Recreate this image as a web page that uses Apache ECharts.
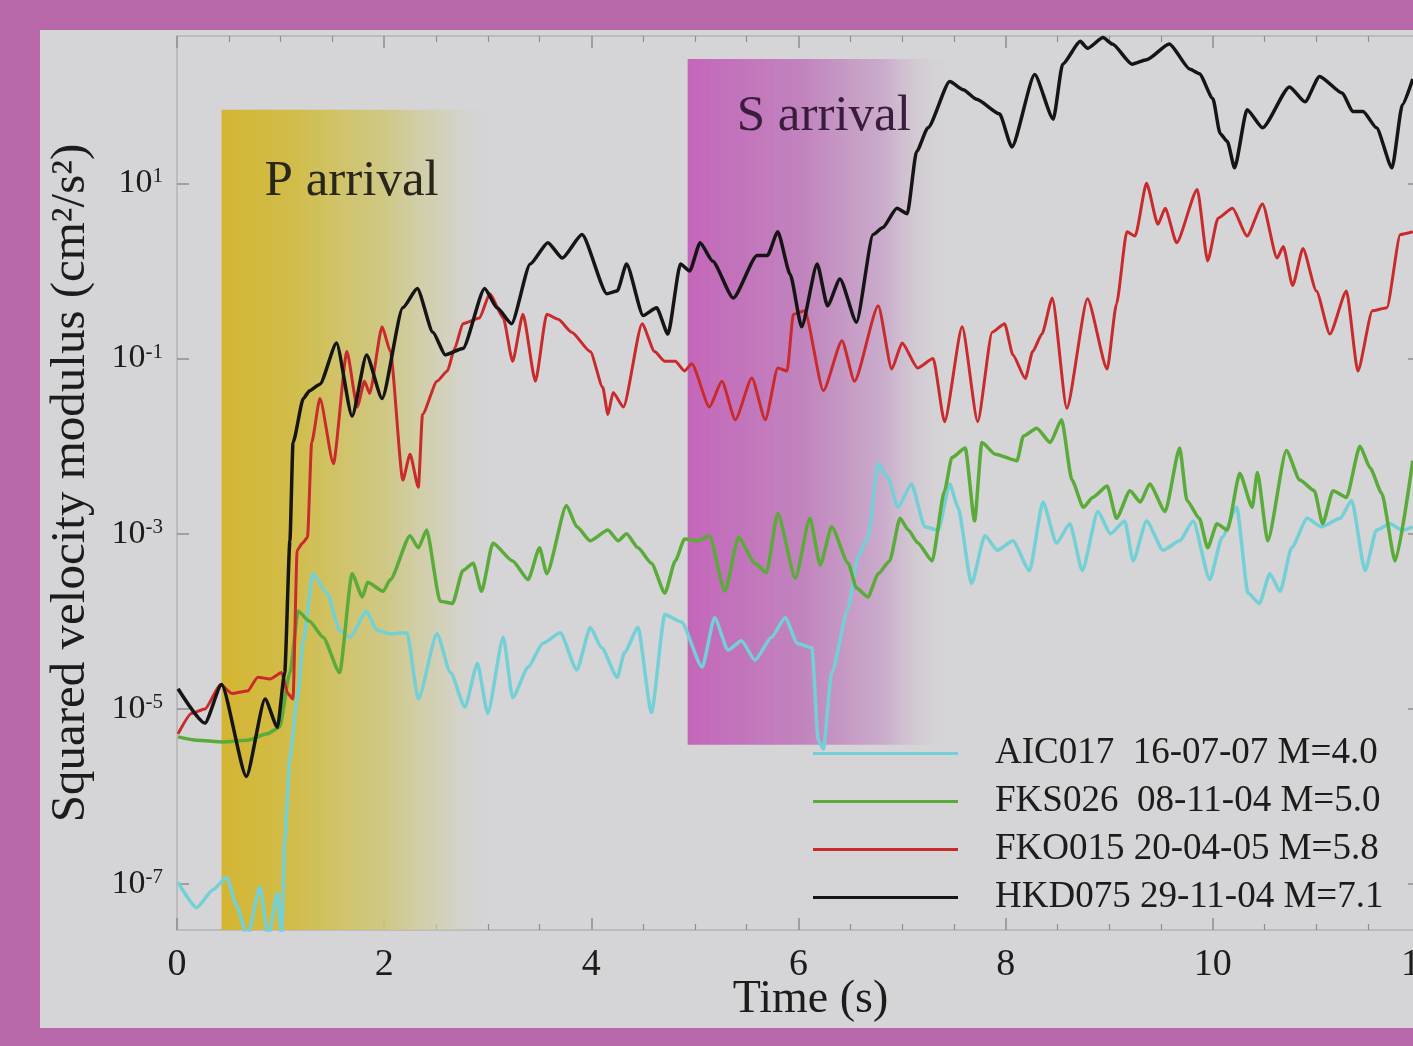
<!DOCTYPE html>
<html>
<head>
<meta charset="utf-8">
<title>Squared velocity modulus</title>
<script src="https://cdn.jsdelivr.net/npm/echarts@6/dist/echarts.min.js"></script>
<style>
  html, body { margin: 0; padding: 0; width: 1413px; height: 1046px; overflow: hidden; background: #b868a9; }
  #panel { position: absolute; left: 40px; top: 30px; width: 1400px; height: 998px; background: #d5d4d6; }
  #chart { position: absolute; left: 0; top: 0; width: 1413px; height: 1046px; }
</style>
</head>
<body>
<div id="panel"></div>
<div id="chart"></div>
<script>
// Squared velocity modulus (cm^2/s^2) against time (s), one trace per station record.
// Each entry is [time in s, squared velocity modulus].

const aic017 = [
  [0.01,1.05e-7],[0.19,5.4e-8],[0.35,8.7e-8],[0.48,1.2e-7],[0.58,5.5e-8],[0.68,2.5e-8],[0.80,9.3e-8],
  [0.88,2.5e-8],[0.97,7.9e-8],[1.01,2.5e-8],[1.04,3.2e-7],[1.09,2.8e-6],[1.16,1.3e-5],[1.22,6.0e-5],
  [1.31,3.5e-4],[1.45,2.1e-4],[1.57,7.9e-5],[1.67,6.6e-5],[1.83,1.3e-4],[1.93,7.9e-5],[2.06,7.2e-5],
  [2.22,7.4e-5],[2.33,1.3e-5],[2.51,7.2e-5],[2.64,2.6e-5],[2.78,1.05e-5],[2.90,3.3e-5],[3.00,8.9e-6],
  [3.15,6.6e-5],[3.24,1.35e-5],[3.39,3.0e-5],[3.53,5.6e-5],[3.70,7.4e-5],[3.86,2.8e-5],[3.99,8.5e-5],
  [4.10,5.0e-5],[4.25,2.3e-5],[4.32,4.4e-5],[4.45,8.5e-5],[4.58,9.1e-6],[4.71,1.2e-4],[4.87,9.8e-5],
  [5.07,3.0e-5],[5.19,1.1e-4],[5.32,4.7e-5],[5.45,6.0e-5],[5.58,3.6e-5],[5.74,6.6e-5],[5.87,1.1e-4],
  [5.99,5.6e-5],[6.13,5.0e-5],[6.19,4.4e-6],[6.24,3.5e-6],[6.32,2.6e-5],[6.48,1.4e-4],[6.57,5.4e-4],
  [6.67,9.1e-4],[6.77,6.3e-3],[6.86,4.4e-3],[6.96,2.0e-3],[7.09,3.7e-3],[7.22,1.2e-3],[7.35,1.1e-3],
  [7.46,3.7e-3],[7.54,2.0e-3],[7.67,2.7e-4],[7.80,9.5e-4],[7.92,6.5e-4],[8.07,8.3e-4],[8.23,3.8e-4],
  [8.36,2.3e-3],[8.49,7.8e-4],[8.62,1.3e-3],[8.74,3.8e-4],[8.89,1.8e-3],[9.01,1.0e-3],[9.15,1.4e-3],
  [9.23,4.9e-4],[9.36,1.4e-3],[9.52,6.5e-4],[9.68,8.3e-4],[9.81,1.4e-3],[9.97,3.0e-4],[10.09,9.1e-4],
  [10.23,2.0e-3],[10.34,2.1e-4],[10.45,1.6e-4],[10.55,3.5e-4],[10.65,2.2e-4],[10.76,6.9e-4],[10.91,1.5e-3],
  [11.05,1.2e-3],[11.23,1.5e-3],[11.34,2.4e-3],[11.47,3.8e-4],[11.58,1.1e-3],[11.71,1.3e-3],[11.83,1.1e-3],
  [11.93,1.2e-3]
];

const fks026 = [
  [0.01,4.8e-6],[0.19,4.4e-6],[0.44,4.2e-6],[0.68,4.4e-6],[0.87,5.2e-6],[0.99,6.2e-6],[1.09,2.6e-5],
  [1.17,1.3e-4],[1.28,1.0e-4],[1.41,6.6e-5],[1.57,2.6e-5],[1.69,3.5e-4],[1.79,1.9e-4],[1.84,2.8e-4],
  [1.99,2.2e-4],[2.06,3.0e-4],[2.25,9.5e-4],[2.33,6.9e-4],[2.41,1.1e-3],[2.54,1.7e-4],[2.66,1.6e-4],
  [2.76,3.8e-4],[2.86,4.6e-4],[2.94,2.2e-4],[3.05,7.8e-4],[3.24,4.9e-4],[3.39,3.0e-4],[3.50,6.9e-4],
  [3.57,3.5e-4],[3.76,2.1e-3],[3.86,1.2e-3],[3.99,8.3e-4],[4.16,1.1e-3],[4.26,8.3e-4],[4.34,1.0e-3],
  [4.45,6.9e-4],[4.58,4.6e-4],[4.71,2.1e-4],[4.81,4.9e-4],[4.90,8.7e-4],[5.03,8.3e-4],[5.14,9.5e-4],
  [5.29,2.2e-4],[5.42,9.1e-4],[5.58,4.6e-4],[5.69,3.6e-4],[5.80,1.7e-3],[5.97,3.1e-4],[6.11,1.5e-3],
  [6.21,4.4e-4],[6.32,1.2e-3],[6.48,4.6e-4],[6.56,2.4e-4],[6.67,1.9e-4],[6.77,3.5e-4],[6.88,4.9e-4],
  [6.98,1.5e-3],[7.06,1.1e-3],[7.15,7.9e-4],[7.29,4.9e-4],[7.41,3.1e-3],[7.48,7.4e-3],[7.61,9.5e-3],
  [7.70,1.4e-3],[7.77,1.1e-2],[7.90,8.1e-3],[8.11,6.8e-3],[8.17,1.3e-2],[8.30,1.6e-2],[8.43,1.1e-2],
  [8.54,2.0e-2],[8.64,4.1e-3],[8.75,2.0e-3],[8.84,2.6e-3],[8.98,3.5e-3],[9.07,1.5e-3],[9.20,3.1e-3],
  [9.30,2.3e-3],[9.39,3.7e-3],[9.54,1.8e-3],[9.68,9.5e-3],[9.75,2.4e-3],[9.87,1.5e-3],[9.95,6.9e-4],
  [10.04,1.3e-3],[10.14,1.1e-3],[10.26,4.9e-3],[10.38,2.0e-3],[10.43,5.0e-3],[10.53,8.3e-4],[10.71,8.9e-3],
  [10.84,4.1e-3],[10.98,3.1e-3],[11.06,1.3e-3],[11.16,3.1e-3],[11.29,2.6e-3],[11.42,1.0e-2],[11.52,5.6e-3],
  [11.63,2.9e-3],[11.76,4.9e-4],[11.93,6.8e-3]
];

const fko015 = [
  [0.01,5.2e-6],[0.14,8.9e-6],[0.27,1.0e-5],[0.42,1.9e-5],[0.53,1.5e-5],[0.68,1.6e-5],[0.78,2.3e-5],
  [0.90,2.2e-5],[1.01,2.6e-5],[1.07,1.5e-5],[1.12,1.3e-5],[1.16,6.5e-4],[1.21,7.8e-4],[1.26,9.1e-4],
  [1.30,1.1e-2],[1.38,3.5e-2],[1.51,6.3e-3],[1.64,0.12],[1.74,2.8e-2],[1.81,5.5e-2],[1.86,4.0e-2],
  [1.98,0.23],[2.06,0.12],[2.18,4.1e-3],[2.25,8.1e-3],[2.33,3.4e-3],[2.37,2.3e-2],[2.51,5.5e-2],
  [2.61,7.2e-2],[2.68,0.13],[2.76,0.25],[2.92,0.29],[3.02,0.55],[3.15,0.29],[3.24,9.3e-2],[3.34,0.32],
  [3.46,5.5e-2],[3.57,0.32],[3.68,0.28],[3.81,0.20],[3.99,0.12],[4.11,4.7e-2],[4.16,2.3e-2],[4.21,4.1e-2],
  [4.31,2.8e-2],[4.49,0.25],[4.61,0.12],[4.71,9.3e-2],[4.81,9.3e-2],[4.90,7.2e-2],[4.97,8.7e-2],
  [5.14,2.8e-2],[5.26,5.5e-2],[5.39,2.0e-2],[5.55,6.0e-2],[5.68,2.0e-2],[5.80,7.8e-2],[5.89,7.2e-2],
  [5.95,0.32],[6.06,0.35],[6.24,4.3e-2],[6.42,0.16],[6.54,5.5e-2],[6.77,0.40],[6.90,7.6e-2],[7.00,0.15],
  [7.15,7.8e-2],[7.30,0.10],[7.41,1.9e-2],[7.58,0.23],[7.73,1.9e-2],[7.87,0.20],[7.99,0.25],[8.07,0.11],
  [8.19,5.9e-2],[8.26,0.12],[8.35,0.19],[8.45,0.49],[8.59,2.7e-2],[8.79,0.48],[8.98,7.6e-2],[9.07,0.42],
  [9.17,2.8],[9.25,2.5],[9.36,10],[9.47,3.4],[9.54,5.2],[9.65,2.1],[9.85,8.5],[9.95,1.3],[10.05,4.0],
  [10.19,5.2],[10.33,2.5],[10.48,5.8],[10.62,1.4],[10.68,1.9],[10.77,0.68],[10.87,1.8],[11.00,0.59],
  [11.13,0.19],[11.29,0.59],[11.40,7.2e-2],[11.54,0.35],[11.68,0.38],[11.81,2.6],[11.93,2.8]
];

const hkd075 = [
  [0.01,1.7e-5],[0.27,6.9e-6],[0.43,1.9e-5],[0.67,1.7e-6],[0.85,1.3e-5],[0.97,6.2e-6],[1.04,2.6e-5],
  [1.09,8.3e-4],[1.12,1.1e-2],[1.22,3.5e-2],[1.28,4.3e-2],[1.38,5.1e-2],[1.54,0.15],[1.69,2.2e-2],
  [1.83,0.11],[1.98,3.5e-2],[2.18,0.38],[2.32,0.63],[2.47,0.20],[2.59,0.11],[2.76,0.13],[2.97,0.63],
  [3.09,0.38],[3.23,0.25],[3.41,1.2],[3.58,2.1],[3.72,1.4],[3.91,2.6],[4.15,0.55],[4.25,0.59],[4.34,1.2],
  [4.50,0.31],[4.63,0.38],[4.74,0.19],[4.86,1.2],[4.95,1.0],[5.05,2.1],[5.17,1.3],[5.37,0.49],[5.60,1.5],
  [5.70,1.5],[5.80,2.8],[5.92,0.91],[6.03,0.23],[6.18,1.2],[6.28,0.40],[6.40,0.81],[6.56,0.26],[6.72,2.6],
  [6.81,3.1],[6.95,5.2],[7.05,4.5],[7.14,23],[7.25,43],[7.46,145],[7.59,117],[7.72,91],[7.94,62],
  [8.06,26],[8.28,174],[8.46,54],[8.55,229],[8.72,417],[8.79,347],[8.94,460],[9.03,389],[9.22,229],
  [9.36,257],[9.58,389],[9.78,200],[9.87,178],[10.00,93],[10.07,37],[10.14,30],[10.21,15],[10.33,69],
  [10.48,43],[10.74,126],[10.89,85],[11.03,166],[11.25,107],[11.35,66],[11.45,66],[11.58,43],[11.73,15],
  [11.83,79],[11.93,155]
];

// Legend labels, in drawing order
const stationNames = [
  'AIC017  16-07-07 M=4.0',
  'FKS026  08-11-04 M=5.0',
  'FKO015 20-04-05 M=5.8',
  'HKD075 29-11-04 M=7.1'
];
const stationColors = ['#72d0d6', '#5aab3a', '#c92a2c', '#151515'];

// Phase windows: [start time, end time, upper bound(, lower bound)] in data units
const pWindow = [0.43, 3.0, 69];
const sWindow = [4.93, 7.46, 263, 3.9e-6];

// Axis ranges and labelled decades
const timeRange = [0, 12];
const velRange = [3.0e-8, 480];
const decadeTicks = [1e-7, 1e-5, 1e-3, 1e-1, 10];

const SERIF = '"Liberation Serif", "DejaVu Serif", serif';
const INK = '#1c1c1c';
const AXIS_LINE = '#b4b3b6';
const TICK = '#8e8d90';

function hFade(stops) {
  return {
    type: 'linear', x: 0, y: 0, x2: 1, y2: 0,
    colorStops: stops.map(s => ({ offset: s[0], color: 'rgba(' + s[1] + ',' + s[2] + ',' + s[3] + ',' + s[4] + ')' }))
  };
}

const yellowFill = hFade([
  [0, 212, 181, 50, 1], [0.28, 209, 189, 76, 1], [0.62, 206, 199, 125, 0.9], [0.85, 210, 207, 175, 0.6], [1, 213, 212, 214, 0]
]);
const magentaFill = hFade([
  [0, 196, 102, 186, 1], [0.45, 192, 128, 188, 0.95], [0.75, 200, 165, 201, 0.85], [1, 213, 212, 214, 0]
]);

function xAxisBase(pos, showLabels) {
  return {
    type: 'value', position: pos, min: timeRange[0], max: timeRange[1], interval: 2,
    axisLine: { show: true, onZero: false, lineStyle: { color: AXIS_LINE, width: 1.5 } },
    axisTick: { show: true, inside: true, length: 12, lineStyle: { color: TICK, width: 1.5 } },
    minorTick: { show: true, splitNumber: 4, length: 6, lineStyle: { color: TICK, width: 1.2 } },
    splitLine: { show: false },
    axisLabel: {
      show: showLabels, fontFamily: SERIF, fontSize: 38, color: INK, margin: 16
    }
  };
}

function yAxisBase(pos, showLabels) {
  return {
    type: 'log', logBase: 10, position: pos, min: velRange[0], max: velRange[1],
    axisLine: { show: true, onZero: false, lineStyle: { color: AXIS_LINE, width: 1.5 } },
    axisTick: { show: true, inside: true, length: 12, customValues: decadeTicks, lineStyle: { color: TICK, width: 1.5 } },
    minorTick: { show: false },
    splitLine: { show: false },
    axisLabel: {
      show: showLabels, customValues: decadeTicks, margin: 14,
      fontFamily: SERIF, fontSize: 34, lineHeight: 34, color: INK,
      formatter: v => '10{s|' + Math.round(Math.log10(v)) + '}',
      rich: { s: { fontFamily: SERIF, fontSize: 21, lineHeight: 15, verticalAlign: 'top', color: INK } }
    }
  };
}

const xBottom = Object.assign(xAxisBase('bottom', true), {
  name: 'Time (s)', nameLocation: 'middle', nameGap: 47, nameMoveOverlap: false,
  nameTextStyle: { fontFamily: SERIF, fontSize: 46, color: INK, padding: [0, 0, 0, 24] }
});
const xTop = xAxisBase('top', false);
const yLeft = Object.assign(yAxisBase('left', true), {
  name: 'Squared velocity modulus (cm²/s²)', nameLocation: 'middle', nameGap: 81, nameRotate: 90,
  nameMoveOverlap: false,
  nameTextStyle: { fontFamily: SERIF, fontSize: 49, color: INK }
});
const yRight = yAxisBase('right', false);

const traces = [aic017, fks026, fko015, hkd075];

const series = traces.map((pts, i) => ({
  name: stationNames[i],
  type: 'line',
  data: pts,
  xAxisIndex: 0,
  yAxisIndex: 0,
  showSymbol: false,
  smooth: 0.2,
  smoothMonotone: 'x',
  clip: true,
  color: stationColors[i],
  lineStyle: { color: stationColors[i], width: i === 2 ? 3 : 3.5 },
  z: 3 + i,
  animation: false
}));

// The shaded phase windows sit under the traces
series[0].markArea = {
  silent: true,
  z: 1,
  data: [
    [
      {
        xAxis: pWindow[0], yAxis: pWindow[2],
        itemStyle: { color: yellowFill },
        label: {
          show: true, position: [43, 72], align: 'left', verticalAlign: 'middle',
          formatter: 'P arrival', fontFamily: SERIF, fontSize: 51, color: '#29271a'
        }
      },
      { xAxis: pWindow[1], yAxis: velRange[0] }
    ],
    [
      {
        xAxis: sWindow[0], yAxis: sWindow[2],
        itemStyle: { color: magentaFill },
        label: {
          show: true, position: [49, 58], align: 'left', verticalAlign: 'middle',
          formatter: 'S arrival', fontFamily: SERIF, fontSize: 51, color: '#3a1d3c'
        }
      },
      { xAxis: sWindow[1], yAxis: sWindow[3] }
    ]
  ]
};

const chart = echarts.init(document.getElementById('chart'), null, { renderer: 'canvas' });
chart.setOption({
  backgroundColor: 'transparent',
  animation: false,
  grid: { left: 177, width: 1243, top: 36, bottom: 116, containLabel: false, outerBoundsMode: 'none' },
  xAxis: [xBottom, xTop],
  yAxis: [yLeft, yRight],
  legend: {
    data: stationNames,
    orient: 'vertical',
    left: 808, top: 730,
    icon: 'rect', itemWidth: 145, itemHeight: 3, itemGap: 11,
    selectedMode: false,
    textStyle: { fontFamily: SERIF, fontSize: 37, lineHeight: 36, color: INK, padding: [0, 0, 0, 32] }
  },
  series: series
});
</script>
</body>
</html>
